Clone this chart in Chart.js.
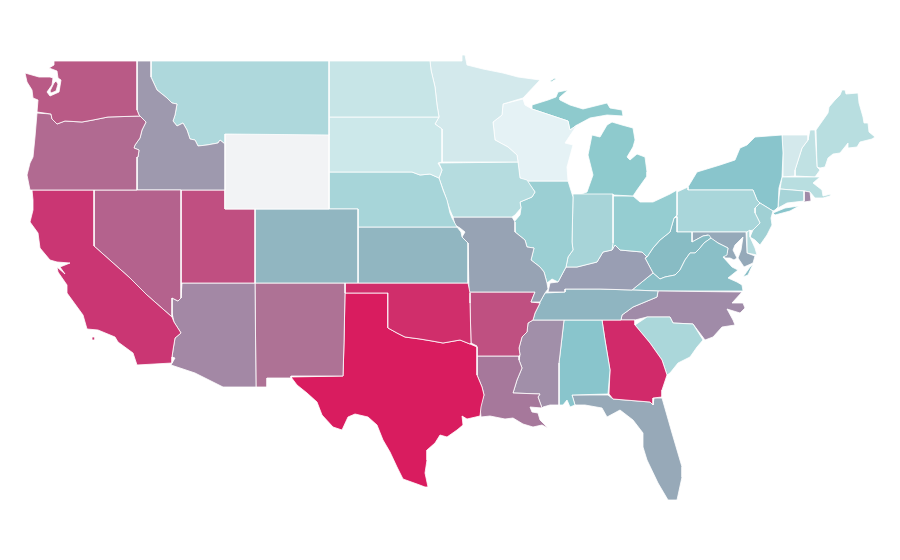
<!DOCTYPE html>
<html>
<head>
<meta charset="utf-8">
<title>US states</title>
<script src="https://cdn.jsdelivr.net/npm/chart.js@4"></script>
<style>
  html, body { margin: 0; padding: 0; background: #fff; }
  canvas { display: block; }
</style>
</head>
<body>
<canvas id="myChart" width="900" height="560"></canvas>
<script>
// state outlines, as x,y pairs in map units
const WA = [54,61, 137,61, 137,110, 139,115, 140,116, 108,117, 93,120, 82,122, 65,121, 57,124, 52,119, 51,114, 37,112, 38,100, 33,98, 32,90, 27,82, 25,73, 39,77, 50,77, 53,78, 52,85, 47,92, 50,96, 59,92, 61,80, 58,78, 57,71, 49,68, 54,65];
const WA_ISLAND = [54,83, 56,81, 58,84, 56,91, 51,93, 50,91];
const OR = [37,113, 51,114, 52,119, 57,124, 65,121, 82,122, 93,120, 108,117, 140,116, 146,122, 142,130, 140,138, 135,145, 134,148, 139,150, 138,157, 137,157, 137,190, 30,190, 27,175, 30,163, 33,157, 35,137];
const CA = [32,190, 94,190, 94,246, 112,262, 130,278, 147,295, 172,317, 174,322, 181,333, 175,338, 173,350, 172,357, 172,363, 137,365, 133,353, 118,342, 115,337, 98,330, 87,329, 83,315, 67,293, 67,285, 58,272, 57,267, 65,274, 60,267, 70,263, 57,262, 50,260, 40,248, 38,233, 30,222, 33,210, 33,200];
const CA_ISLAND = [92,337, 95,337, 95,340, 92,340];
const NV = [94,190, 181,190, 181,298, 178,301, 172,298, 172,317, 147,295, 130,278, 112,262, 94,246];
const ID = [137,61, 151,61, 151,77, 157,90, 167,98, 172,103, 177,104, 175,115, 173,121, 177,126, 183,123, 187,130, 190,139, 195,140, 198,146, 207,145, 218,143, 220,140, 225,144, 225,190, 137,190, 137,157, 138,157, 139,150, 134,148, 135,145, 140,138, 142,130, 146,122, 140,116, 139,115, 137,110];
const MT = [151,61, 329,61, 329,135, 225,134, 225,144, 220,140, 218,143, 207,145, 198,146, 195,140, 190,139, 187,130, 183,123, 177,126, 173,121, 175,115, 177,104, 172,103, 167,98, 157,90, 151,77];
const WY = [225,134, 329,134, 329,209, 225,209];
const UT = [181,190, 225,190, 225,209, 255,209, 255,283, 181,283];
const AZ = [182,283, 255,283, 256,387, 223,387, 195,373, 171,365, 175,358, 172,357, 173,350, 175,338, 181,333, 174,322, 172,313, 172,298, 178,301, 181,298];
const CO = [255,209, 358,209, 358,283, 255,283];
const NM = [255,283, 345,283, 345,293, 344,343, 343,376, 291,376, 291,378, 267,378, 267,387, 256,387];
const ND = [329,61, 430,61, 431,70, 435,87, 437,105, 439,117, 329,117];
const SD = [329,117, 439,117, 435,124, 442,129, 442,162, 438,163, 442,170, 439,178, 430,174, 420,175, 412,172, 329,172];
const NE = [329,172, 412,172, 420,175, 430,174, 439,178, 443,190, 447,200, 450,213, 452,218, 457,227, 358,227, 358,209, 329,209];
const KS = [358,227, 457,227, 461,232, 462,237, 468,243, 468,283, 358,283];
const OK = [345,283, 468,283, 470,293, 470,303, 471,343, 470,344, 460,340, 443,343, 432,341, 420,339, 405,337, 397,333, 388,328, 388,293, 345,293];
const TX = [345,293, 388,293, 388,328, 397,333, 405,337, 420,339, 432,341, 443,343, 460,340, 470,344, 477,347, 477,375, 482,387, 484,395, 481,407, 480,416, 467,419, 462,416, 463,425, 457,430, 447,437, 440,435, 435,443, 427,450, 427,460, 425,473, 428,487, 425,487, 417,484, 403,479, 397,467, 390,452, 383,440, 377,425, 368,417, 355,414, 348,417, 342,430, 333,427, 322,415, 317,402, 307,393, 297,385, 291,377, 343,376, 344,343];
const MN = [430,61, 462,61, 462,55, 465,55, 467,65, 483,69, 503,73, 518,77, 540,80, 523,98, 503,104, 502,115, 493,122, 495,140, 508,147, 517,155, 518,162, 442,162, 442,129, 435,124, 439,117, 437,105, 435,87, 431,70];
const IA = [439,163, 518,162, 520,178, 527,180, 535,192, 532,197, 520,202, 521,208, 515,215, 512,217, 453,217, 450,210, 445,195, 439,178, 442,170];
const MO = [453,217, 512,217, 515,222, 515,232, 525,240, 527,247, 534,248, 531,260, 540,267, 544,272, 547,283, 548,289, 545,293, 540,302, 531,302, 535,292, 469,292, 468,243, 462,237, 465,232, 460,228, 455,225];
const AR = [469,292, 535,292, 531,302, 540,303, 535,313, 533,320, 528,323, 527,332, 522,337, 519,348, 520,355, 519,356, 477,356, 477,346, 471,343, 470,303];
const LA = [477,356, 519,356, 519,360, 522,368, 517,380, 513,393, 540,394, 538,397, 542,408, 530,407, 532,412, 538,413, 540,420, 548,428, 542,425, 533,427, 523,424, 513,418, 505,419, 490,416, 481,417, 480,407, 484,395, 482,387, 477,375];
const WI = [503,104, 523,99, 525,105, 532,109, 553,116, 568,121, 570,130, 577,125, 565,143, 573,145, 567,167, 568,181, 527,181, 520,178, 518,162, 517,155, 508,147, 495,140, 493,122, 502,115];
const IL = [527,181, 568,181, 573,197, 572,242, 573,250, 568,257, 566,267, 558,282, 552,279, 547,283, 544,272, 540,267, 531,260, 534,248, 527,247, 525,240, 515,232, 514,222, 520,215, 521,208, 520,202, 532,197, 535,192];
const IN = [573,194, 613,194, 613,243, 612,250, 603,252, 597,262, 585,265, 577,267, 566,267, 568,257, 573,250, 572,242, 573,197];
const MI_UPPER = [532,105, 548,100, 556,97, 558,92, 568,90, 560,97, 560,100, 570,105, 583,109, 607,103, 610,108, 622,110, 623,116, 607,115, 590,118, 577,125, 570,130, 568,121, 553,116, 532,109];
const MI_ISLE = [550,81, 555,78, 556,79, 551,82];
const MI_LOWER = [612,122, 622,125, 633,128, 635,140, 633,147, 627,157, 630,160, 637,154, 645,157, 647,172, 647,176, 637,190, 633,196, 613,195, 573,197, 587,192, 593,175, 588,155, 592,135, 600,137, 607,125];
const OH = [613,196, 633,196, 640,202, 653,202, 670,194, 677,190, 677,215, 674,218, 670,232, 660,240, 653,248, 647,257, 642,252, 620,250, 615,245, 612,250, 613,243];
const KY = [548,292, 550,283, 558,282, 566,267, 577,267, 585,265, 597,262, 603,252, 612,250, 615,245, 620,250, 642,252, 647,257, 645,258, 653,273, 632,290, 600,289, 565,289, 565,292];
const TN = [545,293, 565,292, 565,289, 600,289, 632,290, 658,291, 657,297, 633,307, 622,315, 621,320, 564,320, 533,320, 535,313, 540,303, 540,302];
const MS = [533,320, 564,320, 559,363, 559,405, 550,405, 543,407, 542,408, 538,397, 540,394, 513,393, 517,380, 522,368, 519,360, 520,355, 519,348, 522,337, 527,332, 528,323];
const AL = [564,320, 602,320, 605,340, 610,370, 608,394, 572,395, 575,405, 570,407, 567,400, 563,405, 559,405, 559,363];
const GA = [602,320, 635,320, 635,325, 650,343, 662,360, 667,375, 662,390, 662,397, 653,398, 653,405, 650,402, 613,399, 609,394, 610,370, 605,340];
const FL = [572,395, 608,395, 613,399, 650,402, 653,405, 654,398, 662,398, 672,433, 682,467, 682,477, 677,500, 668,500, 658,483, 647,460, 643,447, 643,433, 633,420, 620,410, 607,417, 602,408, 585,405, 575,405];
const SC = [635,325, 647,317, 670,317, 673,323, 693,324, 703,340, 697,347, 690,357, 678,363, 670,373, 667,375, 662,360, 650,343];
const NC = [658,291, 742,292, 732,303, 743,303, 745,308, 740,313, 727,309, 733,320, 735,325, 722,327, 713,337, 705,340, 693,324, 673,323, 670,317, 647,317, 635,320, 621,320, 622,315, 633,307, 657,297];
const VA = [632,290, 653,273, 660,279, 665,277, 675,275, 680,270, 685,260, 690,253, 695,253, 700,248, 704,243, 711,238, 718,243, 728,248, 727,255, 723,257, 732,267, 738,270, 728,278, 737,282, 742,285, 743,291, 658,291];
const VA_SHORE = [750,267, 753,264, 748,275, 743,277];
const WV = [677,217, 677,232, 692,232, 692,242, 703,236, 709,235, 711,238, 704,243, 700,248, 695,253, 690,253, 685,260, 680,270, 675,275, 665,277, 660,279, 653,273, 645,258, 647,257, 653,248, 660,240, 670,232, 674,218];
const MD = [692,232, 746,232, 747,253, 755,256, 753,263, 744,267, 738,258, 741,250, 743,237, 735,245, 733,250, 737,258, 734,260, 730,258, 725,258, 723,255, 727,253, 728,248, 718,243, 710,238, 708,235, 703,236, 692,242];
const DE = [747,232, 750,230, 750,237, 755,248, 757,255, 747,253];
const PA = [677,192, 688,187, 688,190, 753,190, 757,200, 760,203, 755,208, 755,213, 760,223, 753,230, 746,232, 677,232];
const NJ = [760,203, 773,211, 771,218, 772,225, 767,235, 760,245, 755,240, 750,237, 753,230, 760,223, 755,213, 755,208];
const NY = [688,190, 688,187, 697,172, 720,165, 735,160, 740,148, 747,145, 755,137, 782,135, 783,153, 782,177, 779,188, 778,207, 775,210, 773,211, 760,203, 757,200, 753,190];
const NY_ISLAND = [773,213, 785,208, 799,206, 790,211, 775,215];
const CT = [780,189, 804,191, 804,201, 787,203, 778,208, 779,197];
const RI = [804,191, 810,192, 811,201, 804,202];
const MA = [782,177, 815,177, 820,177, 813,183, 822,190, 823,196, 831,194, 830,196, 823,198, 815,198, 810,192, 804,191, 780,189];
const VT = [782,135, 808,135, 808,140, 802,148, 795,170, 795,176, 783,177, 783,153];
const NH = [810,130, 815,130, 817,167, 820,170, 815,177, 795,176, 795,170, 802,148, 808,140];
const ME = [816,130, 828,113, 829,107, 835,100, 840,95, 842,90, 845,90, 846,94, 858,93, 859,103, 863,117, 864,123, 868,123, 869,132, 875,137, 872,139, 860,142, 857,147, 848,148, 848,143, 840,153, 833,154, 828,158, 825,167, 820,168, 817,167];

const shapes = [WA, WA_ISLAND, OR, CA, CA_ISLAND, NV, ID, MT, WY, UT, AZ, CO, NM, ND, SD, NE, KS, OK, TX, MN, IA, MO, AR, LA, WI, IL, IN, MI_UPPER, MI_ISLE, MI_LOWER, OH, KY, TN, MS, AL, GA, FL, SC, NC, VA, VA_SHORE, WV, MD, DE, PA, NJ, NY, NY_ISLAND, CT, RI, MA, VT, NH, ME];
const shapeColors = ['#b95a86', '#b95a86', '#b16a91', '#ca3673', '#ca3673', '#b4628d', '#9e99ae', '#aed8dc', '#f2f3f5', '#c04f81', '#a388a5', '#91b6c1', '#ae7295', '#c7e5e7', '#cce8ea', '#a7d5d9', '#91b6c1', '#d02e6b', '#d91c5f', '#d3e9ec', '#b5dcdf', '#97a3b4', '#bf5081', '#a6789b', '#e5f2f5', '#9bcfd3', '#a7d4d8', '#8ecacd', '#8ecacd', '#8ecacd', '#95cdd1', '#999eb3', '#8fb5c1', '#a18fa9', '#89c5cc', '#d12a6a', '#97a9b8', '#abd7da', '#a08ba8', '#8abfc7', '#8abfc7', '#88bcc4', '#95a9b9', '#b4dbde', '#a9d6da', '#a0d0d4', '#89c5cc', '#89c5cc', '#a7d4d8', '#a08aa7', '#b8dee0', '#d4e9ec', '#c0e1e3', '#b8dee0'];

function toPoints(flat) {
    const points = [];
    for (let i = 0; i < flat.length; i += 2) {
        points.push({ x: flat[i], y: flat[i + 1] });
    }
    points.push({ x: flat[0], y: flat[1] });
    return points;
}

const ctx = document.getElementById('myChart').getContext('2d');
const myChart = new Chart(ctx, {
    type: 'scatter',
    data: {
        datasets: shapes.map((shape, i) => ({
            data: toPoints(shape),
            showLine: true,
            fill: 'shape',
            tension: 0,
            pointRadius: 0,
            backgroundColor: shapeColors[i],
            borderColor: '#ffffff',
            borderWidth: 0.8
        }))
    },
    options: {
        responsive: false,
        animation: false,
        layout: { padding: 0 },
        plugins: { legend: { display: false }, tooltip: { enabled: false } },
        scales: {
            x: { type: 'linear', display: false, min: 0, max: 900 },
            y: { type: 'linear', display: false, min: 0, max: 560, reverse: true }
        }
    }
});
</script>
</body>
</html>
